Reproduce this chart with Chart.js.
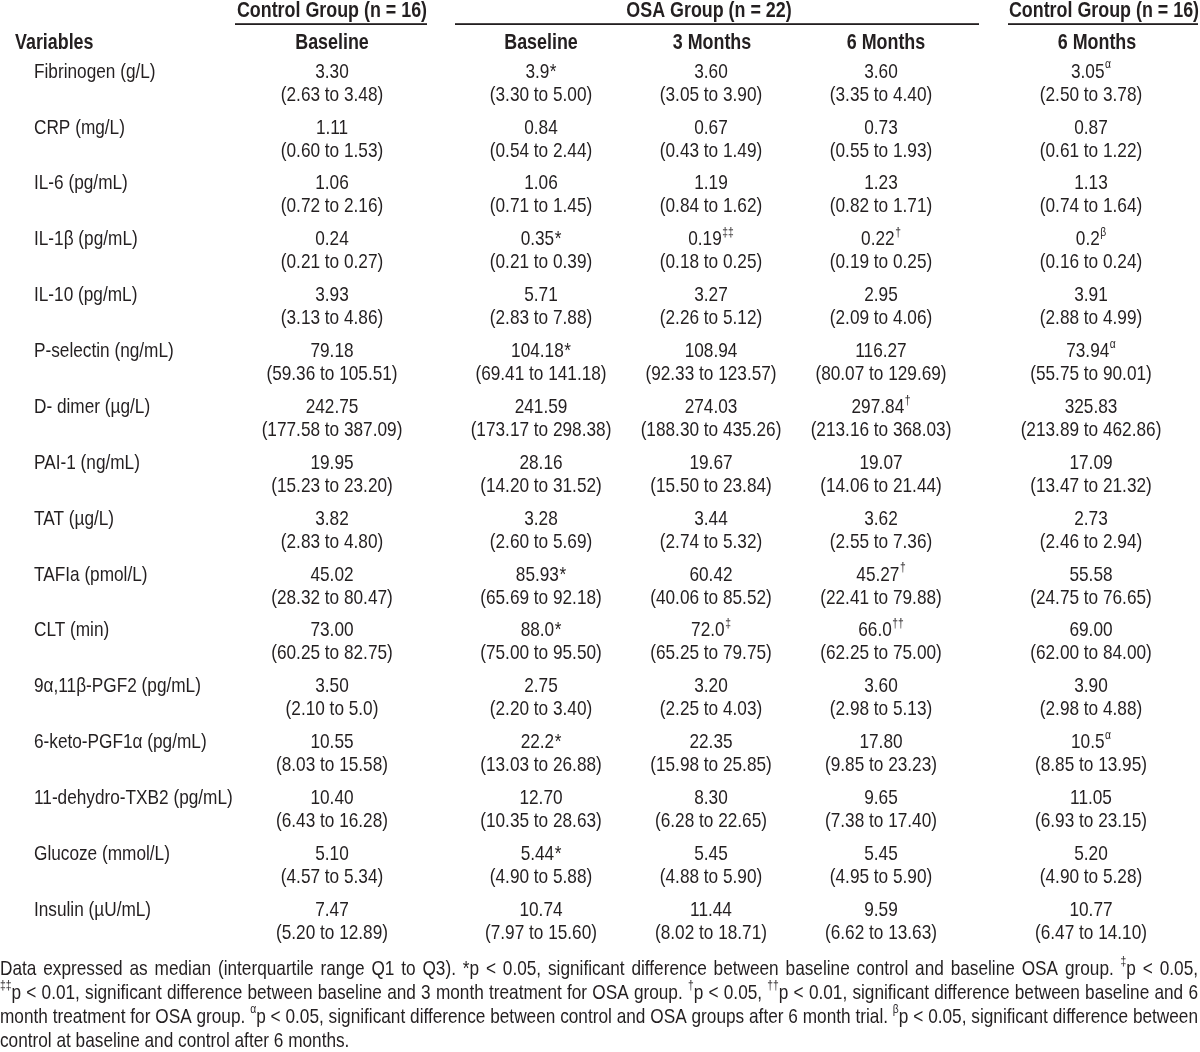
<!DOCTYPE html>
<html><head><meta charset="utf-8">
<script src="https://cdn.jsdelivr.net/npm/chart.js@4.4.1/dist/chart.umd.min.js"></script>
<style>html,body{margin:0;padding:0;background:#fff}canvas{display:block}</style>
</head><body>
<canvas id="c" width="1200" height="1052"></canvas>
<script>
// ---------------- DATA ----------------
const variables = ["Fibrinogen (g/L)","CRP (mg/L)","IL-6 (pg/mL)","IL-1β (pg/mL)","IL-10 (pg/mL)","P-selectin (ng/mL)","D- dimer (µg/L)","PAI-1 (ng/mL)","TAT (µg/L)","TAFIa (pmol/L)","CLT (min)","9α,11β-PGF2 (pg/mL)","6-keto-PGF1α (pg/mL)","11-dehydro-TXB2 (pg/mL)","Glucoze (mmol/L)","Insulin (µU/mL)"];
const columnLabels = ["Baseline","Baseline","3 Months","6 Months","6 Months"];
const groupLabels = ["Control Group (n = 16)","OSA Group (n = 22)","Control Group (n = 16)"];

const ctrlBaseMedian = ["3.30","1.11","1.06","0.24","3.93","79.18","242.75","19.95","3.82","45.02","73.00","3.50","10.55","10.40","5.10","7.47"];
const ctrlBaseRange  = ["2.63 to 3.48","0.60 to 1.53","0.72 to 2.16","0.21 to 0.27","3.13 to 4.86","59.36 to 105.51","177.58 to 387.09","15.23 to 23.20","2.83 to 4.80","28.32 to 80.47","60.25 to 82.75","2.10 to 5.0","8.03 to 15.58","6.43 to 16.28","4.57 to 5.34","5.20 to 12.89"];
const ctrlBaseMark   = ["","","","","","","","","","","","","","","",""];

const osaBaseMedian = ["3.9","0.84","1.06","0.35","5.71","104.18","241.59","28.16","3.28","85.93","88.0","2.75","22.2","12.70","5.44","10.74"];
const osaBaseRange  = ["3.30 to 5.00","0.54 to 2.44","0.71 to 1.45","0.21 to 0.39","2.83 to 7.88","69.41 to 141.18","173.17 to 298.38","14.20 to 31.52","2.60 to 5.69","65.69 to 92.18","75.00 to 95.50","2.20 to 3.40","13.03 to 26.88","10.35 to 28.63","4.90 to 5.88","7.97 to 15.60"];
const osaBaseMark   = ["*","","","*","","*","","","","*","*","","*","","*",""];

const osa3Median = ["3.60","0.67","1.19","0.19","3.27","108.94","274.03","19.67","3.44","60.42","72.0","3.20","22.35","8.30","5.45","11.44"];
const osa3Range  = ["3.05 to 3.90","0.43 to 1.49","0.84 to 1.62","0.18 to 0.25","2.26 to 5.12","92.33 to 123.57","188.30 to 435.26","15.50 to 23.84","2.74 to 5.32","40.06 to 85.52","65.25 to 79.75","2.25 to 4.03","15.98 to 25.85","6.28 to 22.65","4.88 to 5.90","8.02 to 18.71"];
const osa3Mark   = ["","","","‡‡","","","","","","","‡","","","","",""];

const osa6Median = ["3.60","0.73","1.23","0.22","2.95","116.27","297.84","19.07","3.62","45.27","66.0","3.60","17.80","9.65","5.45","9.59"];
const osa6Range  = ["3.35 to 4.40","0.55 to 1.93","0.82 to 1.71","0.19 to 0.25","2.09 to 4.06","80.07 to 129.69","213.16 to 368.03","14.06 to 21.44","2.55 to 7.36","22.41 to 79.88","62.25 to 75.00","2.98 to 5.13","9.85 to 23.23","7.38 to 17.40","4.95 to 5.90","6.62 to 13.63"];
const osa6Mark   = ["","","","†","","","†","","","†","††","","","","",""];

const ctrl6Median = ["3.05","0.87","1.13","0.2","3.91","73.94","325.83","17.09","2.73","55.58","69.00","3.90","10.5","11.05","5.20","10.77"];
const ctrl6Range  = ["2.50 to 3.78","0.61 to 1.22","0.74 to 1.64","0.16 to 0.24","2.88 to 4.99","55.75 to 90.01","213.89 to 462.86","13.47 to 21.32","2.46 to 2.94","24.75 to 76.65","62.00 to 84.00","2.98 to 4.88","8.85 to 13.95","6.93 to 23.15","4.90 to 5.28","6.47 to 14.10"];
const ctrl6Mark   = ["α","","","β","","α","","","","","","","α","","",""];

const footnoteLines = [
  "Data expressed as median (interquartile range Q1 to Q3). *p < 0.05, significant difference between baseline control and baseline OSA group. {‡}p < 0.05,",
  "{‡‡}p < 0.01, significant difference between baseline and 3 month treatment for OSA group. {†}p < 0.05, {††}p < 0.01, significant difference between baseline and 6",
  "month treatment for OSA group. {α}p < 0.05, significant difference between control and OSA groups after 6 month trial. {β}p < 0.05, significant difference between",
  "control at baseline and control after 6 months."
];

// ---------------- LAYOUT / STYLE ----------------
const medians = [ctrlBaseMedian, osaBaseMedian, osa3Median, osa6Median, ctrl6Median];
const ranges  = [ctrlBaseRange, osaBaseRange, osa3Range, osa6Range, ctrl6Range];
const marks   = [ctrlBaseMark, osaBaseMark, osa3Mark, osa6Mark, ctrl6Mark];
const colCenter = [332, 541, 711, 881, 1091];
const headCenter = [332, 541, 712, 886, 1097];
const groupSpan = [[235, 427], [455, 979], [1008, 1198]];
const groupCenter = [332, 709, 1104];
const INK = '#231f20';
const BODY = 21, BOLD = 21.8, FOOT = 21;
const SX = 0.82;

let NARROW = false;
(function(){
  const t = document.createElement('canvas').getContext('2d');
  t.font = '40px monospace'; const a = t.measureText('abcdefghijklmnop').width;
  t.font = '40px "Liberation Sans Narrow", monospace'; const b = t.measureText('abcdefghijklmnop').width;
  NARROW = Math.abs(a - b) > 1;
})();
function setFont(ctx, size, bold){ ctx.font = (bold ? 'bold ' : '') + size + 'px ' + (NARROW ? '"Liberation Sans Narrow", "Liberation Sans", Arial, sans-serif' : '"Liberation Sans", Arial, sans-serif'); }
function tw(ctx, s){ return ctx.measureText(s).width * (NARROW ? 1 : SX); }
function ft(ctx, s, x, y){
  if (NARROW) { ctx.fillText(s, x, y); return; }
  ctx.save(); ctx.translate(x, y); ctx.scale(SX, 1); ctx.fillText(s, 0, 0); ctx.restore();
}
function centered(ctx, s, x, y, size, bold){ setFont(ctx, size, bold); ft(ctx, s, x - tw(ctx, s) / 2, y); }

function drawMedian(ctx, val, mark, x, y){
  setFont(ctx, BODY, false);
  const w1 = tw(ctx, val);
  let w2 = 0, supSize = mark === '*' ? BODY : BODY * 0.6;
  if (mark) { setFont(ctx, supSize, false); w2 = tw(ctx, mark) + 0.5; }
  const start = x - (w1 + w2) / 2;
  setFont(ctx, BODY, false); ft(ctx, val, start, y);
  if (mark) { setFont(ctx, supSize, false); ft(ctx, mark, start + w1 + 0.5, mark === '*' ? y : y - 7); }
}

function parseWord(w){
  const segs = []; const re = /\{([^}]*)\}/g; let last = 0, m;
  while ((m = re.exec(w))) { if (m.index > last) segs.push({t: w.slice(last, m.index), sup: false}); segs.push({t: m[1], sup: true}); last = re.lastIndex; }
  if (last < w.length) segs.push({t: w.slice(last), sup: false});
  return segs;
}
function wordWidth(ctx, segs){ let w = 0; segs.forEach(s => { setFont(ctx, s.sup ? FOOT * 0.6 : FOOT, false); w += tw(ctx, s.t); }); return w; }
function drawWord(ctx, segs, x, y){ segs.forEach(s => { setFont(ctx, s.sup ? FOOT * 0.6 : FOOT, false); ft(ctx, s.t, x, s.sup ? y - 7 : y); x += tw(ctx, s.t); }); }

const tablePlugin = {
  id: 'tableText',
  afterDatasetsDraw(chart){
    const ctx = chart.ctx; const ys = chart.scales.y;
    ctx.save(); ctx.fillStyle = INK; ctx.textBaseline = 'middle'; ctx.textAlign = 'left';
    // group headers
    groupLabels.forEach((g, k) => {
      const [a, b] = groupSpan[k];
      centered(ctx, g, groupCenter[k], 11, BOLD, true);
      ctx.fillRect(a, 23.2, b - a, 1.8);
    });
    setFont(ctx, BOLD, true); ft(ctx, 'Variables', 15, 43);
    columnLabels.forEach((c, k) => centered(ctx, c, headCenter[k], 43, BOLD, true));
    // row labels
    variables.forEach((v, i) => { setFont(ctx, BODY, false); ft(ctx, v, 34, ys.getPixelForValue(i) - 11.5); });
    // cells
    chart.data.datasets.forEach((ds, d) => {
      const meta = chart.getDatasetMeta(d);
      meta.data.forEach((pt, i) => {
        drawMedian(ctx, medians[d][i], marks[d][i], pt.x, pt.y - 11.5);
        centered(ctx, '(' + ranges[d][i] + ')', pt.x, pt.y + 11.5, BODY, false);
      });
    });
    // footnote (justified)
    footnoteLines.forEach((line, li) => {
      const words = line.split(' ').map(parseWord);
      const ws = words.map(w => wordWidth(ctx, w));
      const total = ws.reduce((a, b) => a + b, 0);
      setFont(ctx, FOOT, false);
      const justify = li < footnoteLines.length - 1;
      const gap = justify ? (1198 - total) / (words.length - 1) : tw(ctx, ' ');
      let x = 0; const y = 969 + li * 24;
      words.forEach((w, k) => { drawWord(ctx, w, x, y); x += ws[k] + gap; });
    });
    ctx.restore();
  }
};

new Chart(document.getElementById('c'), {
  type: 'scatter',
  data: {
    datasets: medians.map((col, d) => ({
      label: columnLabels[d],
      data: variables.map((v, i) => ({x: colCenter[d], y: i})),
      pointRadius: 0, pointHoverRadius: 0, showLine: false
    }))
  },
  options: {
    responsive: false, animation: false, devicePixelRatio: 1,
    layout: {padding: {top: 55.5, bottom: 102.5, left: 0, right: 0}},
    plugins: {legend: {display: false}, tooltip: {enabled: false}},
    events: [],
    scales: {
      x: {type: 'linear', min: 0, max: 1200, display: false},
      y: {type: 'category', labels: variables, offset: true, display: false}
    }
  },
  plugins: [tablePlugin]
});
</script>
</body></html>
